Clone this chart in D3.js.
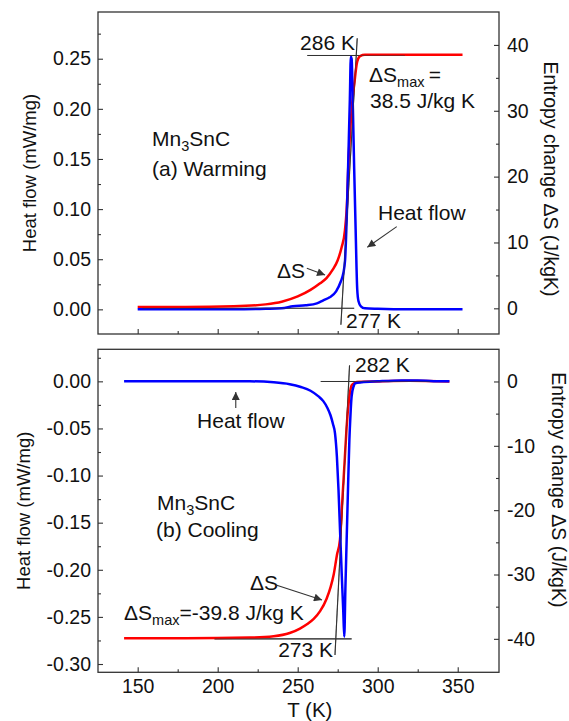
<!DOCTYPE html>
<html>
<head>
<meta charset="utf-8">
<script src="https://cdn.jsdelivr.net/npm/d3@7"></script>
<style>
  html, body { margin: 0; padding: 0; background: #fff; }
  svg { display: block; }
  text { font-family: "Liberation Sans", Arial, sans-serif; fill: #111; }
</style>
</head>
<body>
<svg id="chart" width="569" height="721"></svg>
<script>
// ---------------- DATA ----------------
// (a) Warming: heat flow (mW/mg)
const warmHF_T = [150, 170, 190, 210, 230, 240, 247, 255, 262, 266, 270, 274, 277, 278.5, 279.6, 280.8, 281.8, 282.6, 283.2, 283.7, 284.5, 285.3, 286.2, 287.2, 288, 289.5, 292, 300, 320, 340, 353];
const warmHF   = [0, 0, 0, 0, 0.0005, 0.001, 0.003, 0.004, 0.006, 0.009, 0.012, 0.018, 0.028, 0.036, 0.049, 0.10, 0.16, 0.21, 0.252, 0.25, 0.20, 0.14, 0.08, 0.02, 0.008, 0.003, 0.001, 0.0005, 0, 0, 0];
// (a) Warming: entropy change (J/kg K)
const warmS_T  = [150, 180, 210, 230, 240, 250, 258, 264, 268, 272, 275, 277.5, 279.5, 281, 281.6, 282.7, 284, 285.8, 286.8, 287.8, 289, 292, 300, 320, 353];
const warmS    = [0.2, 0.2, 0.3, 0.6, 1.0, 1.8, 2.8, 3.8, 4.6, 5.9, 7.3, 9.3, 11.8, 17, 21.5, 26.6, 31, 35, 37, 37.9, 38.3, 38.5, 38.5, 38.5, 38.5];
// (b) Cooling: heat flow (mW/mg)
const coolHF_T = [141.5, 160, 180, 200, 220, 235, 245, 252, 258, 263, 266, 268.5, 270.5, 272, 273.3, 274.5, 275.5, 276.5, 277.5, 278.5, 279.1, 279.8, 280.6, 281.5, 282.3, 283, 283.7, 285, 286, 290, 300, 315, 325, 335, 344.8];
const coolHF   = [0, 0, 0, 0, 0, -0.001, -0.003, -0.006, -0.010, -0.016, -0.021, -0.028, -0.036, -0.045, -0.055, -0.08, -0.115, -0.16, -0.204, -0.245, -0.271, -0.22, -0.168, -0.11, -0.062, -0.035, -0.016, -0.005, -0.002, -0.001, 0, 0.001, 0.001, 0, 0];
// (b) Cooling: entropy change (J/kg K)
const coolS_T  = [141.5, 180, 220, 235, 245, 251.4, 256, 260, 264, 268, 270.5, 272.5, 274.5, 276.4, 278, 279.5, 280.6, 281.6, 282.6, 283.7, 285, 287, 300, 320, 344.8];
const coolS    = [-39.9, -39.9, -39.8, -39.6, -39.1, -38.4, -37.7, -36.9, -35.7, -33.8, -32, -30, -27, -24.6, -18, -11.7, -7, -3.9, -1.8, -0.6, -0.3, -0.1, 0, 0.1, 0];

// Tick values
const xMajor = [150, 200, 250, 300, 350];
const xMinor = [175, 225, 275, 325];
const topLeftMajor  = [0.00, 0.05, 0.10, 0.15, 0.20, 0.25];
const topLeftMinor  = [0.025, 0.075, 0.125, 0.175, 0.225, 0.275];
const topRightMajor = [0, 10, 20, 30, 40];
const topRightMinor = [5, 15, 25, 35];
const botLeftMajor  = [0.00, -0.05, -0.10, -0.15, -0.20, -0.25, -0.30];
const botLeftMinor  = [0.025, -0.025, -0.075, -0.125, -0.175, -0.225, -0.275];
const botRightMajor = [0, -10, -20, -30, -40];
const botRightMinor = [-5, -15, -25, -35];

// Guide lines (in T, ΔS units)
const topGuides = [
  [[153, 0], [285.3, 0]],
  [[256, 38.4], [317, 38.4]],
  [[277.0, -2.5], [287.2, 41.0]]
];
const botGuides = [
  [[264.4, 0], [332.7, 0]],
  [[198, -40], [283.7, -40]],
  [[282.4, 2.5], [273.3, -42.5]]
];

// ---------------- DRAW ----------------
const svg = d3.select("#chart");
const x = d3.scaleLinear().domain([125.2, 375.8]).range([98, 499]);

const panels = [
  { y0: 12, y1: 334, left: [-0.0246, 0.2966], right: [-3.9, 45],
    lMaj: topLeftMajor, lMin: topLeftMinor, rMaj: topRightMajor, rMin: topRightMinor,
    hfT: warmHF_T, hf: warmHF, sT: warmS_T, s: warmS, guides: topGuides, xLabels: false,
    lx: 36, rx: 544, rdy: 6 },
  { y0: 349.3, y1: 672.3, left: [-0.3088, 0.034], right: [-45.2, 5],
    lMaj: botLeftMajor, lMin: botLeftMinor, rMaj: botRightMajor, rMin: botRightMinor,
    hfT: coolHF_T, hf: coolHF, sT: coolS_T, s: coolS, guides: botGuides, xLabels: true,
    lx: 29.5, rx: 552, rdy: -21 }
];

const defs = svg.append("defs");
defs.append("marker").attr("id", "arr")
  .attr("viewBox", "0 0 10 10").attr("refX", 10).attr("refY", 5)
  .attr("markerWidth", 11).attr("markerHeight", 8)
  .attr("markerUnits", "userSpaceOnUse").attr("orient", "auto")
  .append("path").attr("d", "M0,0 L10,5 L0,10 z").attr("fill", "#333");

const fmt2 = d => (d < 0 ? "-" : "") + Math.abs(d).toFixed(2);
const fmt0 = d => (d < 0 ? "-" : "") + Math.abs(d);

panels.forEach(p => {
  p.yL = d3.scaleLinear().domain(p.left).range([p.y1, p.y0]);
  p.yR = d3.scaleLinear().domain(p.right).range([p.y1, p.y0]);
  const g = svg.append("g");

  const cid = "clip" + Math.round(p.y0);
  defs.append("clipPath").attr("id", cid).append("rect")
    .attr("x", 98).attr("y", p.y0).attr("width", 401).attr("height", p.y1 - p.y0);

  const styleAxis = sel => {
    sel.select(".domain").remove();
    sel.selectAll("line").attr("stroke", "#333").attr("stroke-width", 1.1);
    sel.selectAll("text").attr("font-size", 19.5).attr("fill", "#111")
      .attr("font-family", "'Liberation Sans', Arial, sans-serif");
  };
  g.append("g").attr("transform", `translate(0,${p.y1})`)
    .call(d3.axisBottom(x).tickValues(xMajor).tickSizeInner(-5).tickSizeOuter(0).tickPadding(7)
      .tickFormat(p.xLabels ? d3.format("d") : () => ""))
    .call(styleAxis);
  g.append("g").attr("transform", `translate(0,${p.y1})`)
    .call(d3.axisBottom(x).tickValues(xMinor).tickSizeInner(-3).tickSizeOuter(0).tickFormat(() => ""))
    .call(styleAxis);
  g.append("g").attr("transform", "translate(98,0)")
    .call(d3.axisLeft(p.yL).tickValues(p.lMaj).tickSizeInner(-5).tickSizeOuter(0).tickPadding(7).tickFormat(fmt2))
    .call(styleAxis);
  g.append("g").attr("transform", "translate(98,0)")
    .call(d3.axisLeft(p.yL).tickValues(p.lMin).tickSizeInner(-3).tickSizeOuter(0).tickFormat(() => ""))
    .call(styleAxis);
  g.append("g").attr("transform", "translate(499,0)")
    .call(d3.axisRight(p.yR).tickValues(p.rMaj).tickSizeInner(-5).tickSizeOuter(0).tickPadding(8).tickFormat(fmt0))
    .call(styleAxis);
  g.append("g").attr("transform", "translate(499,0)")
    .call(d3.axisRight(p.yR).tickValues(p.rMin).tickSizeInner(-3).tickSizeOuter(0).tickFormat(() => ""))
    .call(styleAxis);

  const plot = g.append("g").attr("clip-path", `url(#${cid})`);
  p.guides.forEach(gl => {
    plot.append("line")
      .attr("x1", x(gl[0][0])).attr("y1", p.yR(gl[0][1]))
      .attr("x2", x(gl[1][0])).attr("y2", p.yR(gl[1][1]))
      .attr("stroke", "#333").attr("stroke-width", 1.1);
  });
  const lineHF = d3.line().x((d, i) => x(p.hfT[i])).y(d => p.yL(d)).curve(d3.curveMonotoneX);
  const lineS = d3.line().x((d, i) => x(p.sT[i])).y(d => p.yR(d)).curve(d3.curveMonotoneX);
  plot.append("path").attr("d", lineS(p.s)).attr("fill", "none")
    .attr("stroke", "#ff0000").attr("stroke-width", 2.5).attr("stroke-linejoin", "round");
  plot.append("path").attr("d", lineHF(p.hf)).attr("fill", "none")
    .attr("stroke", "#0000ff").attr("stroke-width", 2.5).attr("stroke-linejoin", "round");
  p.guides.forEach(gl => {
    plot.append("line")
      .attr("x1", x(gl[0][0])).attr("y1", p.yR(gl[0][1]))
      .attr("x2", x(gl[1][0])).attr("y2", p.yR(gl[1][1]))
      .attr("stroke", "#333").attr("stroke-width", 1).attr("stroke-opacity", 0.55);
  });

  g.append("rect").attr("x", 98).attr("y", p.y0).attr("width", 401).attr("height", p.y1 - p.y0)
    .attr("fill", "none").attr("stroke", "#333").attr("stroke-width", 1.3);

  const cy = (p.y0 + p.y1) / 2;
  g.append("text").attr("transform", `translate(${p.lx},${cy}) rotate(-90)`)
    .attr("text-anchor", "middle").attr("font-size", 18.5).text("Heat flow (mW/mg)");
  g.append("text").attr("transform", `translate(${p.rx},${cy + p.rdy}) rotate(90)`)
    .attr("text-anchor", "middle").attr("font-size", 19.5).text("Entropy change \u0394S (J/kgK)");
});

svg.append("text").attr("x", x(257.6)).attr("y", 716.5).attr("text-anchor", "middle")
  .attr("font-size", 20.5).text("T (K)");

// ---------------- ANNOTATIONS ----------------
const pTop = panels[0], pBot = panels[1];
const fs = 21;
function txt(p, T, S, str) {
  return svg.append("text").attr("x", x(T)).attr("y", p.yR(S)).attr("font-size", fs).text(str);
}
function formula(p, T, S, pre, sub, post) {
  const t = svg.append("text").attr("x", x(T)).attr("y", p.yR(S)).attr("font-size", fs);
  t.append("tspan").text(pre);
  t.append("tspan").attr("font-size", 14.5).attr("dy", 5).text(sub);
  t.append("tspan").attr("dy", -5).text(post);
  return t;
}
function arrow(p, T1, S1, T2, S2) {
  svg.append("line").attr("x1", x(T1)).attr("y1", p.yR(S1)).attr("x2", x(T2)).attr("y2", p.yR(S2))
    .attr("stroke", "#333").attr("stroke-width", 1.1).attr("marker-end", "url(#arr)");
}

formula(pTop, 158.95, 24.65, "Mn", "3", "SnC");
txt(pTop, 158.95, 20.1, "(a) Warming");
txt(pTop, 251.5, 39.2, "286 K");
formula(pTop, 294.6, 34.4, "\u0394S", "max", "\u2009=");
txt(pTop, 295.2, 30.4, "38.5 J/kg K");
txt(pTop, 300.2, 13.4, "Heat flow");
arrow(pTop, 311.9, 12.4, 293.5, 9.27);
txt(pTop, 237.1, 4.6, "\u0394S");
arrow(pTop, 255.7, 6.08, 267.1, 5.06);
txt(pTop, 280.2, -3.0, "277 K");

txt(pBot, 285.8, 1.47, "282 K");
txt(pBot, 237.8, -42.8, "273 K");
txt(pBot, 220.2, -32.4, "\u0394S");
arrow(pBot, 236.45, -31.63, 265.2, -33.96);
formula(pBot, 141.45, -37.07, "\u0394S", "max", "=-39.8 J/kg K");
txt(pBot, 187.1, -7.23, "Heat flow");
arrow(pBot, 211.3, -4.12, 211.3, -1.63);
formula(pBot, 162.1, -19.98, "Mn", "3", "SnC");
txt(pBot, 161.45, -24.17, "(b) Cooling");
</script>
</body>
</html>
